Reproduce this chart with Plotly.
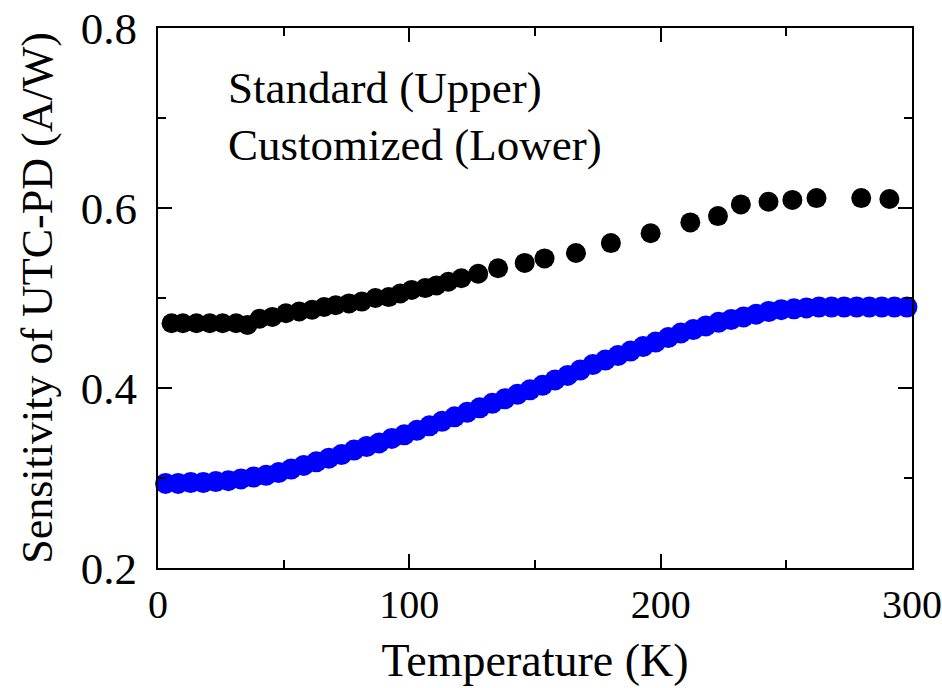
import plotly.graph_objects as go

# Standard (Upper) – black
std_T = [5.4, 9.9, 15.3, 20.6, 25.7, 31.1, 35.6, 40.4, 45.5, 50.9, 56.2, 61.3, 66.1, 70.7,
         76.0, 81.1, 86.5, 91.8, 96.4, 100.9, 106.3, 110.8, 115.5, 120.7, 127.4, 135.3,
         145.9, 153.8, 166.3, 180.2, 196.0, 211.8, 222.8, 231.9, 242.9, 252.4, 262.0,
         279.8, 291.0]
std_S = [0.472, 0.472, 0.472, 0.472, 0.472, 0.472, 0.470, 0.477, 0.479, 0.483, 0.485, 0.487,
         0.490, 0.492, 0.494, 0.496, 0.500, 0.501, 0.505, 0.509, 0.511, 0.514, 0.518, 0.522,
         0.527, 0.533, 0.539, 0.544, 0.550, 0.561, 0.572, 0.584, 0.591, 0.604, 0.607, 0.609,
         0.611, 0.611, 0.610]

# Customized (Lower) – blue
cus_T = [3, 8, 13, 18, 23, 28, 33, 38, 43, 48, 53, 58, 63, 68, 73, 78, 83, 88, 93, 98,
         103, 108, 113, 118, 123, 128, 133, 138, 143, 148, 153, 158, 163, 168, 173, 178,
         183, 188, 193, 198, 203, 208, 213, 218, 223, 228, 233, 238, 243, 248, 253, 258,
         263, 268, 273, 278, 283, 288, 293, 298]
cus_S = [0.294, 0.294, 0.295, 0.295, 0.296, 0.297, 0.299, 0.301, 0.303, 0.306, 0.310, 0.314,
         0.318, 0.322, 0.326, 0.331, 0.335, 0.339, 0.344, 0.348, 0.353, 0.358, 0.363, 0.368,
         0.373, 0.378, 0.383, 0.388, 0.393, 0.398, 0.403, 0.409, 0.414, 0.420, 0.426, 0.431,
         0.436, 0.441, 0.446, 0.451, 0.456, 0.461, 0.465, 0.469, 0.473, 0.476, 0.479, 0.482,
         0.485, 0.487, 0.488, 0.489, 0.490, 0.490, 0.490, 0.490, 0.490, 0.490, 0.490, 0.490]

x_ticks = [0, 100, 200, 300]
y_ticks = [0.2, 0.4, 0.6, 0.8]

FONT = "Liberation Serif"

fig = go.Figure()
fig.add_trace(go.Scatter(x=cus_T, y=cus_S, mode="markers", name="Customized (Lower)",
                         marker=dict(color="#0000ff", size=21, line=dict(width=0)),
                         cliponaxis=False))
fig.add_trace(go.Scatter(x=std_T, y=std_S, mode="markers", name="Standard (Upper)",
                         marker=dict(color="#000000", size=20, line=dict(width=0)),
                         cliponaxis=False))

axis_common = dict(showline=True, linecolor="black", linewidth=2, mirror="allticks",
                   ticks="inside", tickcolor="black", tickwidth=2, ticklen=14,
                   showgrid=False, zeroline=False, automargin=False)

fig.update_xaxes(range=[0, 300], tickvals=x_ticks, ticktext=[str(v) for v in x_ticks],
                 ticklabeloverflow="allow",
                 tickfont=dict(family=FONT, size=40, color="black"),
                 minor=dict(dtick=50, tick0=0, ticks="inside", ticklen=8, tickwidth=2,
                            tickcolor="black"),
                 title=dict(text="Temperature (K)", font=dict(family=FONT, size=46, color="black"),
                            standoff=18),
                 **axis_common)
fig.update_yaxes(range=[0.2, 0.8], tickvals=y_ticks, ticktext=[f"{v:.1f}" for v in y_ticks],
                 tickfont=dict(family=FONT, size=45, color="black"),
                 minor=dict(dtick=0.1, tick0=0.2, ticks="inside", ticklen=8, tickwidth=2,
                            tickcolor="black"),
                 ticklabelstandoff=10,
                 title=dict(text="Sensitivity of UTC-PD (A/W)",
                            font=dict(family=FONT, size=44, color="black"), standoff=14),
                 **axis_common)

fig.add_annotation(x=0.09, y=0.889, xref="paper", yref="paper", xanchor="left", yanchor="middle",
                   text="Standard (Upper)", showarrow=False,
                   font=dict(family=FONT, size=45, color="black"))
fig.add_annotation(x=0.09, y=0.783, xref="paper", yref="paper", xanchor="left", yanchor="middle",
                   text="Customized (Lower)", showarrow=False,
                   font=dict(family=FONT, size=45, color="black"))

fig.update_layout(width=942, height=688, margin=dict(l=158, r=30, t=28, b=120),
                  plot_bgcolor="white", paper_bgcolor="white", showlegend=False)

fig.write_html("out.html")
